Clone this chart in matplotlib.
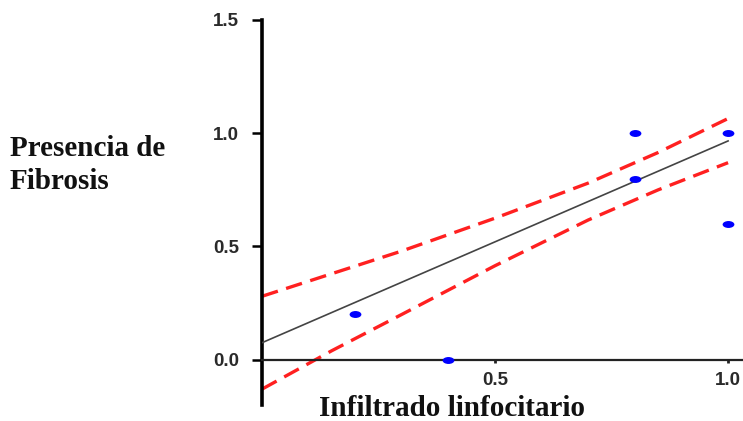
import matplotlib
matplotlib.use("Agg")
import matplotlib.pyplot as plt
from matplotlib.path import Path
from matplotlib.transforms import Affine2D

# Data
pts_x = [0.2, 0.4, 0.8, 0.8, 1.0, 1.0]
pts_y = [0.2, 0.0, 1.0, 0.8, 1.0, 0.6]

fit_x = [0.0, 1.0]
fit_y = [0.075, 0.966]

band_x = [0.0, 0.15, 0.3, 0.5, 0.7, 0.85, 1.0]
band_upper = [0.28, 0.38, 0.48, 0.625, 0.78, 0.915, 1.065]
band_lower = [-0.13, 0.04, 0.20, 0.415, 0.617, 0.75, 0.87]

xticks = [0.5, 1.0]
yticks = [0.0, 0.5, 1.0, 1.5]
ytick_labels = ["0.0", "0.5", "1.0", "1.5"]
xtick_labels = ["0.5", "1.0"]

W, H = 743, 421
fig = plt.figure(figsize=(W / 100, H / 100), dpi=100)
ax = fig.add_axes([262 / W, (H - 405) / H, (W - 262) / W, (405 - 20) / H])
ax.set_xlim(0, 1.032)
ax.set_ylim(-0.2, 1.5)

ell = Path.unit_circle().transformed(Affine2D().scale(1.7, 1.0))

ax.plot(band_x, band_upper, color="#ff2020", lw=2.4, dashes=(5, 2.6), zorder=2)
ax.plot(band_x, band_lower, color="#ff2020", lw=2.4, dashes=(5, 2.6), zorder=2)
ax.plot(fit_x, fit_y, color="#444444", lw=1.2, zorder=3)
ax.scatter(pts_x, pts_y, marker=ell, s=72, color="#0000ff", linewidths=0, zorder=4, clip_on=False)

for s in ["top", "right"]:
    ax.spines[s].set_visible(False)
ax.spines["left"].set_linewidth(2.6)
ax.spines["left"].set_color("#000000")
ax.spines["bottom"].set_position(("data", 0))
ax.spines["bottom"].set_linewidth(1.6)
ax.spines["bottom"].set_color("#222222")

ax.set_yticks(yticks)
ax.set_yticklabels(ytick_labels)
ax.set_xticks(xticks)
ax.set_xticklabels(xtick_labels)
ax.tick_params(axis="y", direction="out", length=7.5, width=1.8, pad=9,
               labelsize=13.5, colors="#000000", labelcolor="#2a2a2a")
ax.tick_params(axis="x", direction="out", length=2.5, width=2.0, pad=6,
               labelsize=13.5, colors="#222222", labelcolor="#2a2a2a")
for lab in ax.get_xticklabels() + ax.get_yticklabels():
    lab.set_fontweight("bold")
    lab.set_family("Liberation Sans")

fig.text(10 / W, 1 - 165 / H, "Presencia de\nFibrosis", family="Liberation Serif",
         fontweight="bold", fontsize=21, ha="left", va="center", linespacing=1.28,
         color="#111111")
fig.text(452 / W, 1 - 409 / H, "Infiltrado linfocitario", family="Liberation Serif",
         fontweight="bold", fontsize=21, ha="center", va="center", color="#111111")

fig.savefig("out.png", dpi=100)
